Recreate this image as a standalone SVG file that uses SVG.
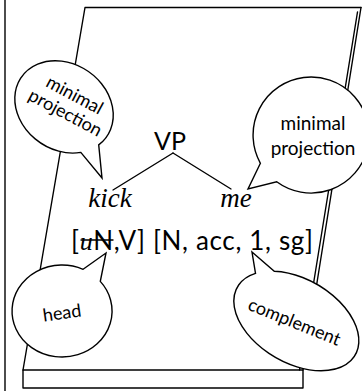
<svg xmlns="http://www.w3.org/2000/svg" width="362" height="391" viewBox="0 0 362 391">
<style>
.ln{stroke:#000;stroke-width:1.4;fill:none;stroke-linecap:round;stroke-linejoin:round}
.bub{stroke:#000;stroke-width:1.4;fill:#fff;stroke-linejoin:miter}
.sans{font-family:Lato,"Noto Sans","Liberation Sans",sans-serif;fill:#000}
.ital{font-family:"Liberation Serif","DejaVu Serif",serif;font-style:italic;fill:#000}
.bt{font-family:Lato,"Noto Sans","Liberation Sans",sans-serif;fill:#000;text-anchor:middle}
</style>
<rect x="0" y="0" width="362" height="391" fill="#fff"/>
<g id="frame">
<line class="ln" x1="5" y1="0" x2="5" y2="391"/>
</g>
<g id="page">
<path class="ln" d="M85,7.5 L361,7.5 M85,7.5 L23,370"/>
<path class="ln" d="M361,7.5 L303,370 M357.5,12 L299.5,370"/>
<rect class="ln" x="23" y="370" width="280" height="18" fill="#fff"/>
</g>
<g id="connectors">
<line class="ln" x1="173" y1="153" x2="113" y2="190"/>
<line class="ln" x1="173" y1="153" x2="231" y2="189"/>
</g>
<g id="node-vp">
<text class="sans" x="170" y="150" font-size="25" text-anchor="middle">VP</text>
</g>
<g id="node-kick">
<text class="ital" x="110" y="207" font-size="27" text-anchor="middle">kick</text>
</g>
<g id="node-me">
<text class="ital" x="236" y="207" font-size="27" text-anchor="middle">me</text>
</g>
<g id="node-features">
<text class="sans" x="71" y="250" font-size="26" textLength="242" lengthAdjust="spacing">[<tspan class="ital">u</tspan>N,V] [N, acc, 1, sg]</text>
<line class="ln" x1="81" y1="240" x2="113" y2="240"/>
</g>
<g id="bubble-minproj-left">
<path class="bub" d="M80.8,152.4 L102,178 L98.7,144.9 A52 43 35 1 0 80.8,152.4 Z"/>
<g transform="translate(70,104) rotate(28)">
<text class="bt" x="0" y="-4" font-size="18">minimal</text>
<text class="bt" x="0" y="16" font-size="18">projection</text>
</g>
</g>
<g id="bubble-minproj-right">
<path class="bub" d="M260.4,163.3 L248,189 L276.7,181.8 A58 58 0 1 0 260.4,163.3 Z"/>
<text class="bt" x="313" y="130" font-size="19">minimal</text>
<text class="bt" x="313" y="155" font-size="19">projection</text>
</g>
<g id="bubble-head">
<path class="bub" d="M83.1,269.3 L106,253 L100.3,281.4 A50 46 0 1 1 83.1,269.3 Z"/>
<text class="bt" x="62" y="319" font-size="18" transform="rotate(-8 62 313)">head</text>
</g>
<g id="bubble-complement">
<path class="bub" d="M255.5,273.4 L252,252 L274.3,271.2 A68 42 30 1 1 255.5,273.4 Z"/>
<text class="bt" x="294" y="328" font-size="18" transform="rotate(22 294 323)">complement</text>
</g>
</svg>
